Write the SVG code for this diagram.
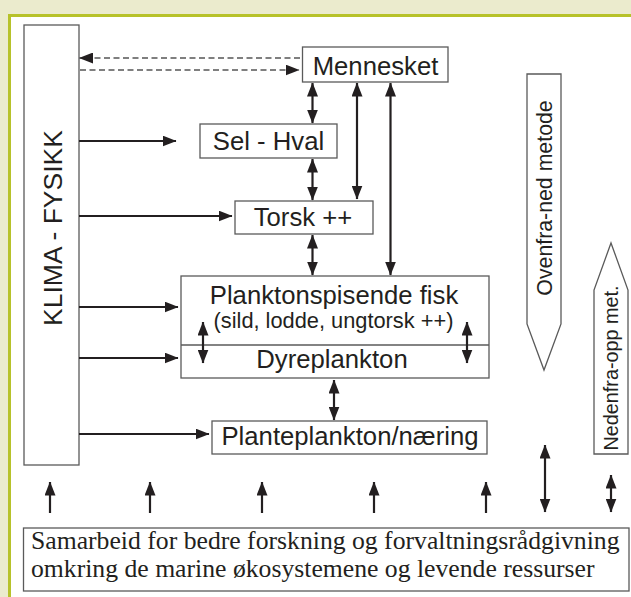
<svg xmlns="http://www.w3.org/2000/svg" width="631" height="597" viewBox="0 0 631 597">
<style>
.box{fill:#fff;stroke:#5a5a5a;stroke-width:1.3}
.t{font-family:"Liberation Sans",Arial,sans-serif;fill:#231f20}
.tm{text-anchor:middle}
.ser{font-family:"Liberation Serif","Times New Roman",serif;fill:#231f20;font-size:25.7px}
.a{stroke:#231f20;stroke-width:2.2;fill:none;marker-end:url(#ah)}
.d{stroke:#231f20;stroke-width:2.2;fill:none;marker-start:url(#ah);marker-end:url(#ah)}
.h{stroke:#231f20;stroke-width:1.9;fill:none;marker-end:url(#ah)}
.dash{stroke:#555;stroke-width:1.3;stroke-dasharray:6,3.5;fill:none;marker-end:url(#ah)}
</style>
<defs>
<marker id="ah" viewBox="0 0 14 11" markerWidth="14" markerHeight="11" refX="13.5" refY="5.5" orient="auto-start-reverse" markerUnits="userSpaceOnUse">
<path d="M0,0 L14,5.5 L0,11 z" fill="#231f20"/>
</marker>
</defs>
<rect x="0" y="0" width="631" height="597" fill="#ebebcd"/>
<rect x="8" y="14" width="623" height="583" fill="#b7c22a"/>
<rect x="11" y="17" width="620" height="580" fill="#fff"/>

<g id="klima">
<rect class="box" x="24" y="25" width="55" height="440"/>
<text class="t tm" font-size="26.5" transform="translate(61.5,228) rotate(-90)">KLIMA - FYSIKK</text>
</g>
<g id="mennesket">
<rect class="box" x="302.5" y="47" width="145.5" height="35"/>
<text class="t tm" font-size="25.7" x="375.5" y="75">Mennesket</text>
</g>
<g id="selhval">
<rect class="box" x="200" y="124" width="137" height="34"/>
<text class="t tm" font-size="25.7" x="268.5" y="150">Sel - Hval</text>
</g>
<g id="torsk">
<rect class="box" x="235" y="201" width="138" height="33"/>
<text class="t tm" font-size="25.7" x="303" y="226">Torsk ++</text>
</g>
<g id="plankton">
<rect class="box" x="181" y="276" width="308" height="102"/>
<line x1="181" y1="345" x2="489" y2="345" stroke="#5a5a5a" stroke-width="1.3"/>
<text class="t tm" font-size="25.7" x="334" y="304">Planktonspisende fisk</text>
<text class="t tm" font-size="21.8" x="333.5" y="328">(sild, lodde, ungtorsk ++)</text>
<text class="t tm" font-size="25.7" x="332" y="368">Dyreplankton</text>
</g>
<g id="planteplankton">
<rect class="box" x="212" y="421" width="275" height="33"/>
<text class="t tm" font-size="25.7" x="350" y="445">Planteplankton/næring</text>
</g>
<g id="ovenfra">
<path class="box" d="M527,74 H561 V324 L544,370 L527,324 Z"/>
<text class="t tm" font-size="21.3" transform="translate(552,198) rotate(-90)">Ovenfra-ned metode</text>
</g>
<g id="nedenfra">
<path class="box" d="M611,243 L628,290 V454 H594 V290 Z"/>
<text class="t tm" font-size="19.8" transform="translate(618,368) rotate(-90)">Nedenfra-opp met.</text>
</g>
<g id="samarbeid">
<rect class="box" x="23.5" y="528" width="605.5" height="63"/>
<text class="ser" x="31" y="549">Samarbeid for bedre forskning og forvaltningsrådgivning</text>
<text class="ser" x="31" y="577">omkring de marine økosystemene og levende ressurser</text>
</g>

<g id="connectors">
<line class="dash" x1="300" y1="58" x2="79.5" y2="58"/>
<line class="dash" x1="80" y1="70" x2="299" y2="70"/>
<line class="h" x1="79" y1="141" x2="176" y2="141"/>
<line class="h" x1="79" y1="216" x2="232" y2="216"/>
<line class="h" x1="79" y1="307" x2="178" y2="307"/>
<line class="h" x1="79" y1="358" x2="178" y2="358"/>
<line class="h" x1="79" y1="434" x2="209" y2="434"/>
<line class="d" x1="312.5" y1="83" x2="312.5" y2="123"/>
<line class="d" x1="357" y1="83" x2="357" y2="199"/>
<line class="d" x1="390.5" y1="83" x2="390.5" y2="275"/>
<line class="d" x1="312.5" y1="159" x2="312.5" y2="200"/>
<line class="d" x1="312.5" y1="235" x2="312.5" y2="275"/>
<line class="d" x1="203" y1="322" x2="203" y2="363"/>
<line class="d" x1="467" y1="322" x2="467" y2="363"/>
<line class="d" x1="334" y1="380" x2="334" y2="420"/>
<line class="d" x1="545" y1="445" x2="545" y2="512"/>
<line class="d" x1="611" y1="475" x2="611" y2="512"/>
<line class="a" x1="50" y1="513" x2="50" y2="482"/>
<line class="a" x1="150" y1="513" x2="150" y2="482"/>
<line class="a" x1="262" y1="513" x2="262" y2="482"/>
<line class="a" x1="374" y1="513" x2="374" y2="482"/>
<line class="a" x1="486" y1="513" x2="486" y2="482"/>
</g>
</svg>
